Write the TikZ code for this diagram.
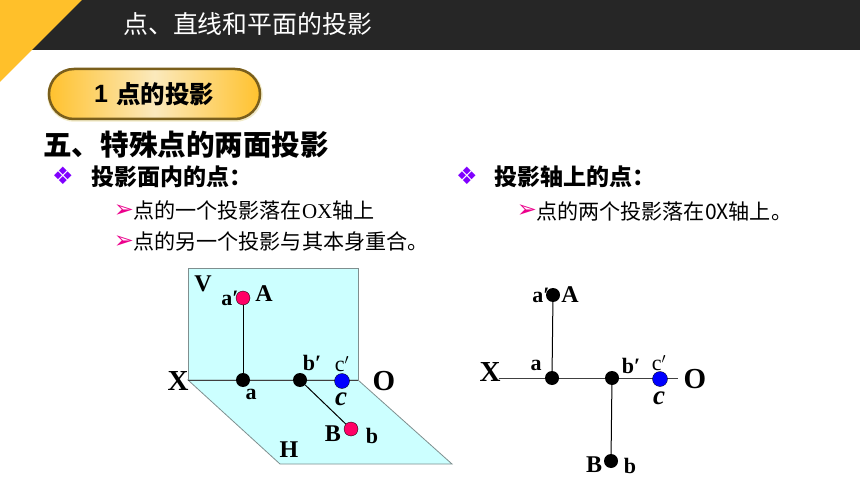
\documentclass[tikz,border=0pt]{standalone}
\usepackage{fontspec}
\setmainfont{Liberation Serif}
\newfontfamily\cjk{Noto Sans CJK SC}
\newfontfamily\latinsans{Liberation Sans}
\newfontfamily\dingfont{DejaVu Sans}
\definecolor{darkbar}{HTML}{262626}
\definecolor{cornergold}{HTML}{FFC02A}
\definecolor{pillgold}{HTML}{FFC22E}
\definecolor{pillpale}{HTML}{FBE9BC}
\definecolor{pillrim}{HTML}{7A5F1C}
\definecolor{pillhalo}{HTML}{F2EBC8}
\definecolor{planecyan}{HTML}{CCFFFF}
\definecolor{planeedge}{HTML}{7F8F8F}
\definecolor{pointred}{HTML}{FF0066}
\definecolor{pointblue}{HTML}{0000FF}
\definecolor{bulletpurple}{HTML}{8000FF}
\tikzset{
  dotblack/.style={circle,fill=black,inner sep=0pt,minimum size=14pt},
  dotred/.style={circle,fill=pointred,draw=black,line width=0.3pt,inner sep=0pt,minimum size=14pt},
  dotblue/.style={circle,fill=pointblue,draw=black,line width=0.3pt,inner sep=0pt,minimum size=15pt},
  lab/.style={font=\bfseries\fontsize{22}{22}\selectfont,inner sep=0pt},
  midlab/.style={font=\bfseries\fontsize{24}{24}\selectfont,inner sep=0pt},
  biglab/.style={font=\bfseries\fontsize{29}{29}\selectfont,inner sep=0pt},
  thinlab/.style={font=\fontsize{22}{22}\selectfont,inner sep=0pt},
  itlab/.style={font=\bfseries\itshape\fontsize{27}{27}\selectfont,inner sep=0pt},
  body/.style={font=\cjk\fontsize{21.1}{21.1}\selectfont,anchor=west,inner sep=0pt},
  subhead/.style={font=\cjk\bfseries\fontsize{23}{23}\selectfont,anchor=west,inner sep=0pt},
  arrowmark/.style={font=\dingfont\fontsize{24}{24}\selectfont,text=magenta,inner sep=0pt},
  diamondmark/.style={font=\dingfont\fontsize{24}{24}\selectfont,text=bulletpurple,inner sep=0pt},
  link/.style={draw=black,line width=1pt},
  axisline/.style={draw=black!75,line width=0.8pt}
}
\begin{document}
\begin{tikzpicture}[x=1pt,y=-1pt]
  \useasboundingbox (0,0) rectangle (860,484);
  % header
  \fill[white] (0,0) rectangle (860,484);
  \fill[darkbar] (0,0) rectangle (860,50);
  \fill[cornergold] (0,0) -- (82,0) -- (0,82) -- cycle;
  \node[font=\cjk\fontsize{24.9}{24.9}\selectfont,text=white,anchor=west,inner sep=0pt] (title) at (123,24) {点、直线和平面的投影};
  % tag
  \draw[pillhalo,line width=1.5pt,rounded corners=26pt] (48,69) rectangle (262,121);
  \draw[pillrim,line width=2.5pt,left color=pillgold,right color=pillgold,middle color=pillpale,rounded corners=25pt] (49,69) rectangle (260,119);
  \node[font=\latinsans\bfseries\fontsize{25}{25}\selectfont,anchor=west,inner sep=0pt] (tagnum) at (94,94) {1};
  \node[font=\cjk\bfseries\fontsize{24.5}{24.5}\selectfont,anchor=west,inner sep=0pt] (tag) at (116,94) {点的投影};
  % text
  \node[font=\cjk\bfseries\fontsize{28.6}{28.6}\selectfont,anchor=west,inner sep=0pt] (heading) at (43,145) {五、特殊点的两面投影};
  \node[diamondmark] (markl) at (63,176) {❖};
  \node[subhead] (subl) at (91,177) {投影面内的点：};
  \node[arrowmark] (arrl) at (124,211) {➢};
  \node[body] (linea) at (133,210) {点的一个投影落在{\rmfamily\fontsize{21}{21}\selectfont OX}轴上};
  \node[arrowmark] (arrm) at (124,242) {➢};
  \node[body] (lineb) at (133,242) {点的另一个投影与其本身重合。};
  \node[diamondmark] (markr) at (467,176) {❖};
  \node[subhead] (subr) at (494,177) {投影轴上的点：};
  \node[arrowmark] (arrr) at (527,211) {➢};
  \node[body] (linec) at (536,211) {点的两个投影落在0X轴上。};
  % left picture
  \draw[planeedge,fill=planecyan,line width=0.8pt] (188,268) rectangle (358,380);
  \draw[planeedge,fill=planecyan,line width=0.8pt] (188,380) -- (358,380) -- (452,464) -- (280,464) -- cycle;
  \draw[axisline] (188,380) -- (358,380);
  \node[dotred] (av) at (243,298) {};
  \node[dotblack] (ah) at (243,380) {};
  \node[dotblack] (bv) at (300,380) {};
  \node[dotred] (bh) at (351,429) {};
  \node[dotblue] (cv) at (342,381) {};
  \draw[link] (av) -- (ah);
  \draw[link] (bv) -- (bh);
  \node[midlab] (vlab) at (203,284) {V};
  \node[lab] (avlab) at (230,298) {a′};
  \node[midlab] (alab) at (264,294) {A};
  \node[biglab] (xlab) at (178,381) {X};
  \node[lab] (ahlab) at (251,394) {a};
  \node[lab] (bvlab) at (312,363) {b′};
  \node[thinlab] (cvlab) at (342,364) {c$'$};
  \node[itlab] (chlab) at (341,399) {c};
  \node[biglab] (olab) at (384,381) {O};
  \node[midlab] (blab) at (333,434) {B};
  \node[lab] (bhlab) at (372,436) {b};
  \node[midlab] (hlab) at (289,450) {H};
  % right picture
  \coordinate (xend) at (499,378);
  \coordinate (oend) at (678,378);
  \draw[axisline] (xend) -- (oend);
  \node[dotblack] (avr) at (553,295) {};
  \node[dotblack] (ahr) at (552,378) {};
  \node[dotblack] (bvr) at (612,378) {};
  \node[dotblack] (bhr) at (611,461) {};
  \node[dotblue] (cvr) at (660,379) {};
  \draw[link] (avr) -- (ahr);
  \draw[link] (bvr) -- (bhr);
  \node[lab] (avrlab) at (541,295) {a′};
  \node[midlab] (arlab) at (570,295) {A};
  \node[biglab] (xrlab) at (490,372) {X};
  \node[lab] (ahrlab) at (536,365) {a};
  \node[lab] (bvrlab) at (631,366) {b′};
  \node[thinlab] (cvrlab) at (659,363) {c$'$};
  \node[itlab] (chrlab) at (659,398) {c};
  \node[biglab] (orlab) at (695,379) {O};
  \node[midlab] (brlab) at (594,465) {B};
  \node[lab] (bhrlab) at (630,466) {b};
\end{tikzpicture}
\end{document}
